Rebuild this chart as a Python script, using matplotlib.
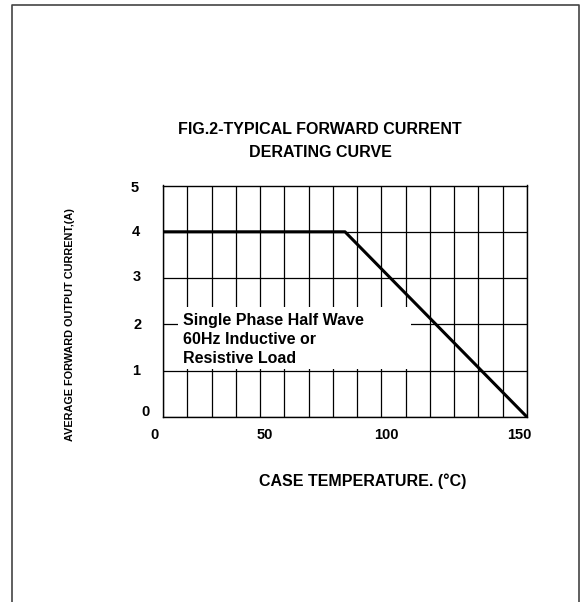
import numpy as np
import matplotlib.pyplot as plt
from matplotlib.lines import Line2D
from matplotlib.patches import Rectangle

plt.rcParams['font.family'] = ['Liberation Sans', 'DejaVu Sans']

# Derating curve: case temperature (C) vs average forward current (A)
temp = [0, 75, 150]
current = [4, 4, 0]

xtick_labels = ["0", "50", "100", "150"]
ytick_labels = ["0", "1", "2", "3", "4", "5"]

W, H = 587, 602
fig = plt.figure(figsize=(W / 100, H / 100), dpi=100)

# outer frame (open at the bottom)
fig.add_artist(Line2D([12 / W, 12 / W, 579 / W, 579 / W], [0, 1 - 5 / H, 1 - 5 / H, 0],
                      color="#444444", lw=1.2, transform=fig.transFigure))

ax = fig.add_axes([163 / W, 185 / H, 364 / W, 231.5 / H])
ax.set_xlim(0, 150)
ax.set_ylim(0, 5)
ax.set_xticks(np.arange(0, 151, 10))
ax.set_yticks(np.arange(0, 6, 1))
ax.tick_params(length=0, labelbottom=False, labelleft=False)
ax.grid(True, color="black", lw=0.9)
for s in ax.spines.values():
    s.set_linewidth(1.0)

# white box behind the note
ax.add_patch(Rectangle((6, 1.03), 96, 1.35, facecolor="white", edgecolor="none", zorder=2.5))
ax.text(8.3, 1.67, "Single Phase Half Wave\n60Hz Inductive or\nResistive Load",
        fontsize=11.5, fontweight="bold", va="center", ha="left", linespacing=1.35, zorder=3)

ax.plot(temp, current, color="black", lw=2.2, zorder=4, solid_capstyle="butt")

# tick labels (offset as in the original)
xlab_pos = [-3.3, 42, 92, 147]
for p, t in zip(xlab_pos, xtick_labels):
    ax.text(p, -0.38, t, ha="center", va="center", fontsize=10.5, fontweight="bold", clip_on=False)
ylab_pos = [(-7.4, 0.11), (-11.0, 1.0), (-10.5, 1.99), (-11.0, 3.02), (-11.0, 4.0), (-11.5, 4.95)]
for (px, py), t in zip(ylab_pos, ytick_labels):
    ax.text(px, py, t, ha="center", va="center", fontsize=10.5, fontweight="bold", clip_on=False)

fig.text(320 / W, 1 - 141 / H, "FIG.2-TYPICAL FORWARD CURRENT\nDERATING CURVE",
         ha="center", va="center", fontsize=11.5, fontweight="bold", linespacing=1.65)
fig.text(363 / W, 1 - 481 / H, "CASE TEMPERATURE. (\u00b0C)",
         ha="center", va="center", fontsize=11.5, fontweight="bold")
fig.text(70 / W, 1 - 325 / H, "AVERAGE FORWARD OUTPUT CURRENT,(A)",
         ha="center", va="center", rotation=90, fontsize=7.8, fontweight="bold")

fig.savefig("out.png", dpi=100, facecolor="white")
